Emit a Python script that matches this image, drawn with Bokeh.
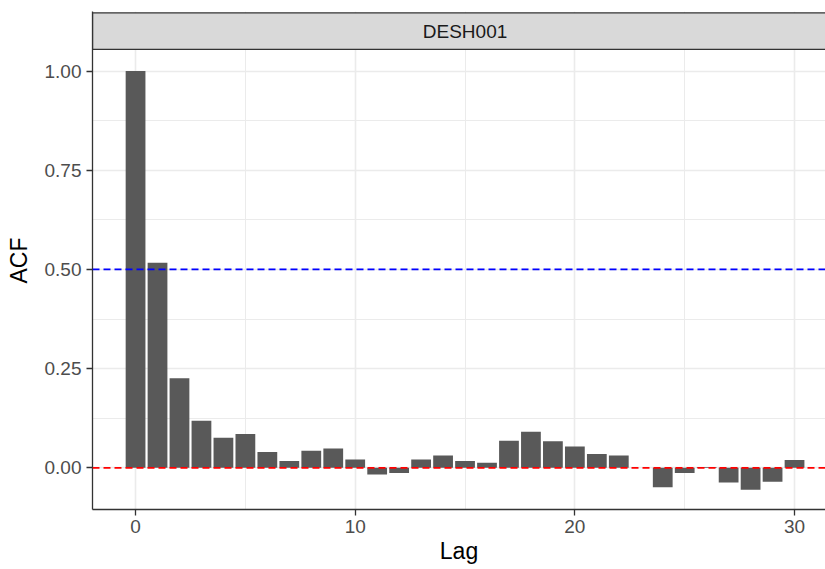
from bokeh.plotting import figure
from bokeh.models import Span, FixedTicker
from bokeh.core.properties import value
from bokeh.embed import file_html
from bokeh.resources import INLINE

# ---- data ----
lags = list(range(31))
acf = [1.000, 0.517, 0.226, 0.119, 0.076, 0.085, 0.040, 0.017, 0.043, 0.049,
       0.021, -0.017, -0.013, 0.021, 0.031, 0.017, 0.013, 0.068, 0.091, 0.067,
       0.054, 0.035, 0.031, 0.000, -0.049, -0.013, 0.002, -0.037, -0.055, -0.035,
       0.020]
strip_label = "DESH001"
blue_line = 0.5
red_line = 0.0
x_ticks = [0, 10, 20, 30]
x_minor = [5, 15, 25]
y_ticks = [0.0, 0.25, 0.5, 0.75, 1.0]
y_minor = [0.125, 0.375, 0.625, 0.875]
y_tick_labels = {0.0: "0.00", 0.25: "0.25", 0.5: "0.50", 0.75: "0.75", 1.0: "1.00"}

# ---- ranges ----
x0, x1 = -1.96, 31.41
gg_x0, gg_x1 = -1.995, 31.995
y0, y1 = -0.105, 1.1502
panel_top = 1.0545
strip_top = 1.1465

FONT = "Liberation Sans"

p = figure(width=825, height=569, x_range=(x0, x1), y_range=(y0, y1),
           output_backend="svg", toolbar_location=None,
           min_border_left=92, min_border_right=0, min_border_top=11,
           min_border_bottom=60, x_axis_label="Lag", y_axis_label="ACF")
p.outline_line_color = None
p.background_fill_color = "white"
p.border_fill_color = "white"

# grids
p.xgrid.ticker = FixedTicker(ticks=x_ticks, minor_ticks=x_minor)
p.ygrid.ticker = FixedTicker(ticks=y_ticks, minor_ticks=y_minor)
for g in (p.xgrid, p.ygrid):
    g.grid_line_color = "#EBEBEB"
    g.grid_line_width = 1.6
    g.minor_grid_line_color = "#EBEBEB"
    g.minor_grid_line_width = 1.0

# axes
p.xaxis.ticker = FixedTicker(ticks=x_ticks)
p.yaxis.ticker = FixedTicker(ticks=y_ticks)
p.yaxis.major_label_overrides = y_tick_labels
for ax in (p.xaxis, p.yaxis):
    ax.axis_line_color = "#333333"
    ax.axis_line_width = 1.3
    ax.major_tick_line_color = "#333333"
    ax.major_tick_line_width = 1.3
    ax.major_tick_in = 0
    ax.major_tick_out = 6
    ax.minor_tick_line_color = None
    ax.major_label_text_font = FONT
    ax.major_label_text_font_size = "19px"
    ax.major_label_text_color = "#4D4D4D"
    ax.axis_label_text_font = FONT
    ax.axis_label_text_font_size = "23px"
    ax.axis_label_text_font_style = "normal"
    ax.axis_label_text_color = "black"
p.xaxis.major_label_standoff = 4
p.xaxis.axis_label_standoff = 2
p.yaxis.major_label_standoff = 5
p.yaxis.axis_label_standoff = 10

# bars
p.vbar(x=lags, top=acf, bottom=0, width=0.9, fill_color="#595959", line_color=None)

# reference lines
p.add_layout(Span(location=blue_line, dimension="width", line_color="#0000FF",
                  line_dash="7 4", line_width=1.8))
p.add_layout(Span(location=red_line, dimension="width", line_color="#FF0000",
                  line_dash="7 4", line_width=1.8))

# facet strip
p.quad(left=[x0], right=[x1 + 2], bottom=[panel_top], top=[strip_top],
       fill_color="#D9D9D9", line_color="#333333", line_width=1.3)
p.text(x=[(gg_x0 + gg_x1) / 2], y=[(panel_top + strip_top) / 2], text=[strip_label],
       text_align="center", text_baseline="middle", text_font=value(FONT),
       text_font_size="19px", text_color="#1A1A1A")

open("out.html", "w").write(file_html(p, INLINE))
